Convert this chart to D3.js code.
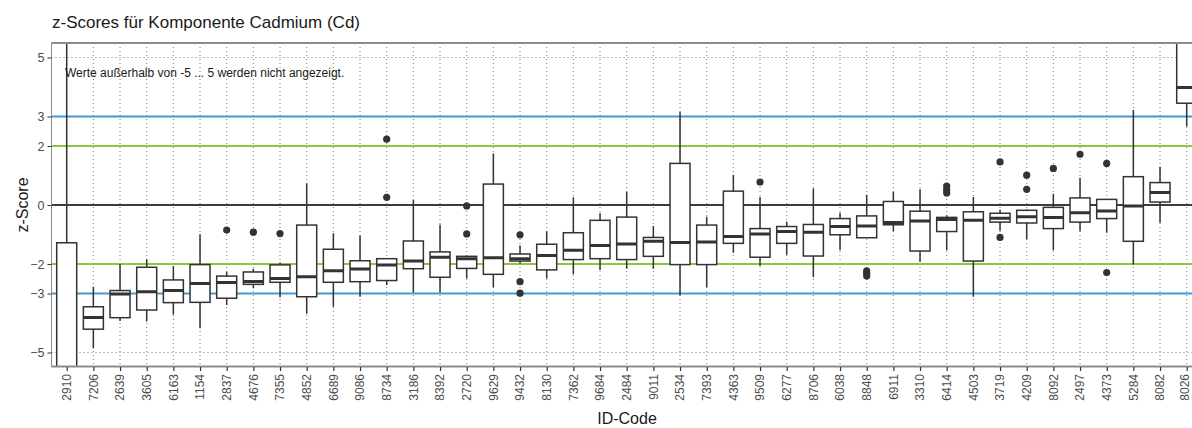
<!DOCTYPE html>
<html>
<head>
<meta charset="utf-8">
<script src="https://cdn.jsdelivr.net/npm/d3@7"></script>
<style>
  body { margin: 0; background: #fff; }
  svg { display: block; font-family: "Liberation Sans", Arial, sans-serif; }
</style>
</head>
<body>
<div id="chart"></div>
<script>
// ID codes (x categories)
var ids = ["2910","7206","2639","3605","6163","1154","2837","4676","7355","4852",
           "6689","9086","8734","3186","8392","2720","9629","9432","8130","7362",
           "9684","2484","9011","2534","7393","4363","9509","6277","8706","6038",
           "8848","6911","3310","6414","4503","3719","4209","8092","2497","4373",
           "5284","8082","8026"];
// box statistics per ID
var whiskerLow = [-12,-4.86,-3.93,-3.95,-3.71,-4.18,-3.39,-2.82,-3.13,-3.69,
                  -3.45,-3.11,-2.71,-2.97,-2.97,-2.49,-2.79,-1.98,-2.49,-2.35,
                  -2.20,-2.16,-2.16,-3.07,-2.79,-1.62,-2.07,-1.69,-2.45,-1.53,
                  -1.11,-0.89,-1.93,-1.53,-3.11,-0.87,-1.16,-1.53,-0.89,-0.94,
                  -2.02,-0.60,2.66];
var q1 = [-9,-4.21,-3.82,-3.56,-3.31,-3.30,-3.16,-2.69,-2.62,-3.11,
          -2.62,-2.60,-2.56,-2.16,-2.45,-2.15,-2.35,-1.90,-2.20,-1.85,
          -1.82,-1.85,-1.74,-2.02,-2.02,-1.30,-1.77,-1.30,-1.73,-1.01,
          -1.11,-0.67,-1.56,-0.90,-1.90,-0.58,-0.61,-0.80,-0.58,-0.46,
          -1.23,0.10,3.45];
var median = [-7,-3.81,-3.02,-2.94,-2.90,-2.66,-2.63,-2.59,-2.49,-2.43,
              -2.23,-2.17,-2.03,-1.90,-1.77,-1.82,-1.79,-1.82,-1.71,-1.53,
              -1.37,-1.32,-1.23,-1.27,-1.25,-1.07,-0.98,-0.90,-0.92,-0.73,
              -0.71,-0.59,-0.54,-0.49,-0.52,-0.45,-0.40,-0.42,-0.26,-0.20,
              -0.03,0.42,3.98];
var q3 = [-1.28,-3.45,-2.90,-2.11,-2.54,-2.02,-2.41,-2.27,-2.03,-0.68,
          -1.50,-1.89,-1.82,-1.22,-1.59,-1.74,0.71,-1.66,-1.33,-0.94,
          -0.52,-0.41,-1.10,1.41,-0.68,0.47,-0.80,-0.73,-0.66,-0.46,
          -0.37,0.12,-0.21,-0.42,-0.23,-0.28,-0.18,-0.08,0.24,0.19,
          0.96,0.76,7];
var whiskerHigh = [9,-2.77,-2.00,-1.84,-2.07,-0.99,-2.26,-2.16,-1.95,0.73,
                   -0.96,-1.03,-1.82,0.17,-0.66,-1.74,1.75,-1.37,-0.89,0.26,
                   -0.28,0.45,-0.71,3.16,-0.40,1.02,0.27,-0.57,0.56,-0.26,
                   0.35,0.45,0.53,-0.35,0.27,-0.16,-0.14,0.38,0.92,0.19,
                   3.22,1.30,10];
// outliers as [index, value]
var outliers = [[6,-0.85],[7,-0.92],[8,-0.97],[12,2.23],[12,0.26],[15,-0.03],[15,-0.98],
                [17,-1.01],[17,-2.60],[17,-2.99],[26,0.78],[30,-2.23],[30,-2.32],[30,-2.41],
                [33,0.64],[33,0.52],[33,0.41],[35,1.46],[35,-1.10],[36,1.01],[36,0.53],
                [37,1.24],[38,1.72],[39,1.41],[39,-2.29]];
// y breaks and reference lines
var yTicks = [5,3,2,0,-2,-3,-5];
var refLines = [[3,"#3d9bd8"],[-3,"#3d9bd8"],[2,"#8cc63f"],[-2,"#8cc63f"],[0,"#000000"]];

var W = 1192, H = 428;
var panel = {left: 51.5, right: 1203, top: 43, bottom: 366.5};

var svg = d3.select("#chart").append("svg")
  .attr("width", W).attr("height", H);

// scales
var x = d3.scalePoint().domain(ids).range([66.7, 1186.7]);
var y = d3.scaleLinear().domain([-5.5, 5.5]).range([367.25, 42.75]);
var boxW = 20;

svg.append("clipPath").attr("id", "clip")
  .append("rect")
  .attr("x", panel.left).attr("y", panel.top)
  .attr("width", panel.right - panel.left).attr("height", panel.bottom - panel.top);

var g = svg.append("g").attr("clip-path", "url(#clip)");

// dotted grid
g.selectAll(".vgrid").data(ids).enter().append("line")
  .attr("x1", function(d){ return x(d); }).attr("x2", function(d){ return x(d); })
  .attr("y1", panel.top).attr("y2", panel.bottom)
  .attr("stroke", "#555").attr("stroke-width", 0.8).attr("stroke-dasharray", "1,3");
g.selectAll(".hgrid").data(yTicks).enter().append("line")
  .attr("x1", panel.left).attr("x2", panel.right)
  .attr("y1", function(d){ return y(d); }).attr("y2", function(d){ return y(d); })
  .attr("stroke", "#555").attr("stroke-width", 0.8).attr("stroke-dasharray", "1,3");

// coloured limits
g.selectAll(".ref").data(refLines).enter().append("line")
  .attr("x1", panel.left).attr("x2", panel.right)
  .attr("y1", function(d){ return y(d[0]); }).attr("y2", function(d){ return y(d[0]); })
  .attr("stroke", function(d){ return d[1]; })
  .attr("stroke-width", function(d){ return d[0] === 0 ? 1.6 : 2; });

// boxplots
var boxes = g.selectAll(".box").data(ids).enter().append("g");
boxes.append("line")
  .attr("x1", function(d){ return x(d); }).attr("x2", function(d){ return x(d); })
  .attr("y1", function(d, i){ return y(whiskerHigh[i]); })
  .attr("y2", function(d, i){ return y(whiskerLow[i]); })
  .attr("stroke", "#333").attr("stroke-width", 1.5);
boxes.append("rect")
  .attr("x", function(d){ return x(d) - boxW / 2; })
  .attr("width", boxW)
  .attr("y", function(d, i){ return y(q3[i]); })
  .attr("height", function(d, i){ return y(q1[i]) - y(q3[i]); })
  .attr("fill", "#fff").attr("stroke", "#333").attr("stroke-width", 1.5);
boxes.append("line")
  .attr("x1", function(d){ return x(d) - boxW / 2; })
  .attr("x2", function(d){ return x(d) + boxW / 2; })
  .attr("y1", function(d, i){ return y(median[i]); })
  .attr("y2", function(d, i){ return y(median[i]); })
  .attr("stroke", "#333").attr("stroke-width", 3);

// outliers
g.selectAll(".out").data(outliers).enter().append("circle")
  .attr("cx", function(d){ return x(ids[d[0]]); })
  .attr("cy", function(d){ return y(d[1]); })
  .attr("r", 3.6).attr("fill", "#333");

// panel border
svg.append("rect")
  .attr("x", panel.left).attr("y", panel.top)
  .attr("width", panel.right - panel.left).attr("height", panel.bottom - panel.top)
  .attr("fill", "none").attr("stroke", "#8c8c8c").attr("stroke-width", 1);
svg.append("line").attr("x1", panel.left).attr("x2", panel.right)
  .attr("y1", panel.top).attr("y2", panel.top)
  .attr("stroke", "#8c8c8c").attr("stroke-width", 2);
svg.append("line").attr("x1", panel.left).attr("x2", panel.right)
  .attr("y1", panel.bottom).attr("y2", panel.bottom)
  .attr("stroke", "#8c8c8c").attr("stroke-width", 2);

// note inside panel
svg.append("text")
  .attr("x", 65).attr("y", 77)
  .attr("font-size", 12).attr("fill", "#1a1a1a")
  .text("Werte außerhalb von -5 ... 5 werden nicht angezeigt.");

// y axis
var yAxis = d3.axisLeft(y).tickValues(yTicks).tickSize(4).tickPadding(3)
  .tickFormat(d3.format("d"));
var ya = svg.append("g").attr("transform", "translate(" + panel.left + ",0)").call(yAxis);
ya.select(".domain").remove();
ya.selectAll("line").attr("stroke", "#333").attr("stroke-width", 1);
ya.selectAll("text").attr("font-size", 12.5).attr("fill", "#4d4d4d")
  .attr("font-family", "Liberation Sans, Arial, sans-serif");

// x axis
var xAxis = d3.axisBottom(x).tickSize(4).tickPadding(3);
var xa = svg.append("g").attr("transform", "translate(0," + (panel.bottom + 0.5) + ")").call(xAxis);
xa.select(".domain").remove();
xa.selectAll("line").attr("stroke", "#333").attr("stroke-width", 1.2);
xa.selectAll("text")
  .attr("font-size", 12).attr("fill", "#4d4d4d")
  .attr("font-family", "Liberation Sans, Arial, sans-serif")
  .attr("transform", "rotate(-90)")
  .attr("text-anchor", "end")
  .attr("x", -7)
  // last label sits at the window edge, nudge it in a bit
  .attr("y", function(d, i){ return i === ids.length - 1 ? -2.5 : -0.5; })
  .attr("dy", "0.35em");

// titles
svg.append("text")
  .attr("x", 52).attr("y", 28)
  .attr("font-size", 17).attr("fill", "#1a1a1a")
  .text("z-Scores für Komponente Cadmium (Cd)");
svg.append("text")
  .attr("transform", "translate(28," + y(0) + ") rotate(-90)")
  .attr("text-anchor", "middle")
  .attr("font-size", 16).attr("fill", "#1a1a1a")
  .text("z-Score");
svg.append("text")
  .attr("x", 627).attr("y", 424)
  .attr("text-anchor", "middle")
  .attr("font-size", 16).attr("fill", "#1a1a1a")
  .text("ID-Code");
</script>
</body>
</html>
